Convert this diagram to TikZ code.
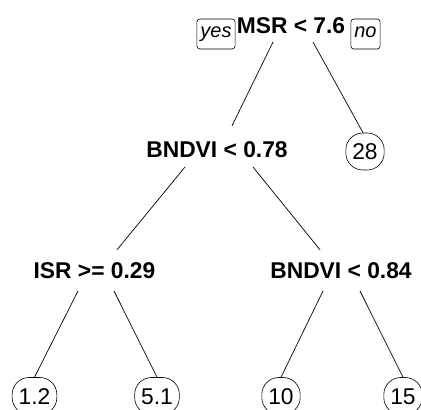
\documentclass[tikz,border=0pt]{standalone}
\usepackage{fontspec}
\setmainfont{Liberation Sans}
\begin{document}
\begin{tikzpicture}[x=1pt,y=-1pt,
  split/.style={font=\bfseries\fontsize{22.8}{24}\selectfont, inner sep=0pt, text height=16pt, text depth=0pt, anchor=base},
  leaf/.style={draw, rounded corners=17pt, font=\fontsize{22.8}{24}\selectfont, inner xsep=6.5pt, inner ysep=0pt, text height=16.5pt, text depth=0pt, minimum height=37pt, line width=0.6pt},
  tag/.style={draw, rounded corners=3pt, font=\itshape\fontsize{20}{22}\selectfont, inner xsep=3.5pt, inner ysep=0pt, text height=10.5pt, text depth=4.5pt, minimum height=30pt, line width=0.6pt},
  edge/.style={line width=0.7pt}
]
\useasboundingbox (0,0) rectangle (421,410);

\node[split] (root) at (291,33) {MSR < 7.6};
\node[tag] (yes) at (216,34) {yes};
\node[tag] (no) at (365.5,34) {no};

\node[split] (n2) at (217,157) {BNDVI < 0.78};
\node[leaf] (l28) at (365,151.5) {28};

\node[split] (n3) at (94.5,278) {ISR >= 0.29};
\node[split] (n4) at (341,278) {BNDVI < 0.84};

\node[leaf] (l1) at (34.5,396) {1.2};
\node[leaf] (l2) at (157,396) {5.1};
\node[leaf] (l3) at (281,396) {10};
\node[leaf] (l4) at (403,396) {15};

\draw[edge] ([shift={(-18pt,-9pt)}]root.base) -- ([shift={(15pt,15pt)}]n2.north);
\draw[edge] ([shift={(22pt,-9pt)}]root.base) -- ([xshift=-2pt]l28.north);

\draw[edge] ([shift={(-32pt,-10pt)}]n2.base) -- ([shift={(22.5pt,12pt)}]n3.north);
\draw[edge] ([shift={(36pt,-10pt)}]n2.base) -- ([shift={(-21pt,12pt)}]n4.north);

\draw[edge] ([shift={(-16.5pt,-13pt)}]n3.base) -- (l1.north);
\draw[edge] ([shift={(19.5pt,-13pt)}]n3.base) -- (l2.north);
\draw[edge] ([shift={(-18pt,-13pt)}]n4.base) -- (l3.north);
\draw[edge] ([shift={(19pt,-13pt)}]n4.base) -- (l4.north);
\end{tikzpicture}
\end{document}
